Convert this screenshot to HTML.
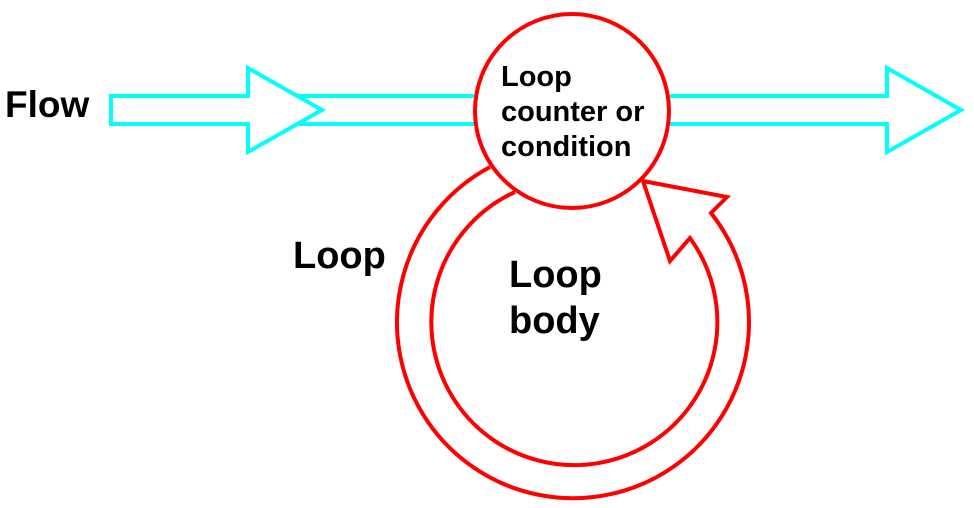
<!DOCTYPE html>
<html><head><meta charset="utf-8"><style>
html,body{margin:0;padding:0;background:#fff;}
svg{display:block}
text{font-family:"Liberation Sans",Arial,sans-serif;font-weight:bold;fill:#000}
</style></head><body>
<svg width="974" height="508" viewBox="0 0 974 508" xmlns="http://www.w3.org/2000/svg">
<g fill="none" stroke="#00ffff" stroke-width="4">
<path d="M111,96 H248 V68 L322,110 L248,152 V124 H111 Z"/>
<path d="M298,96 H474 M298,124 H474"/>
<path d="M670,96 H887 V68 L961,110 L887,152 V124 H670"/>
</g>
<g fill="none" stroke="#ff0000" stroke-width="4">
<circle cx="572" cy="111" r="97" fill="#fff"/>
<path d="M490,167 A176,176 0 1 0 711,213 L727,197 L643,181 L670,261 L690,238 A143,143 0 1 1 515,192"/>
</g>
<text x="5" y="117" font-size="37">Flow</text>
<text x="501" y="86" font-size="29">Loop</text>
<text x="501" y="121" font-size="29">counter or</text>
<text x="501" y="156" font-size="29">condition</text>
<text x="293" y="268" font-size="38">Loop</text>
<text x="509" y="287" font-size="38">Loop</text>
<text x="509" y="333" font-size="38">body</text>
</svg>
</body></html>
